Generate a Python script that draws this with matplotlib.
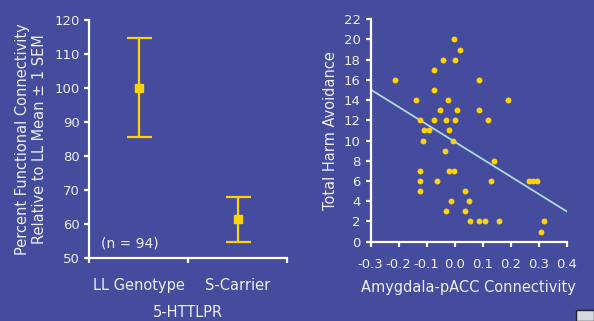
import matplotlib
matplotlib.use("Agg")
from matplotlib import pyplot as plt
from matplotlib.patches import Rectangle

# left panel: group means with +/- 1 SEM
groups = ["LL Genotype", "S-Carrier"]
group_mean = [100.0, 61.3]
group_low = [85.6, 54.7]
group_high = [114.6, 68.0]

# right panel: scatter
conn_x = [-0.214, -0.004, 0.018, -0.042, 0.0, -0.074, 0.088, -0.074, -0.137, -0.024,
          0.19, -0.054, 0.007, 0.088, -0.124, -0.074, -0.032, 0.0, 0.12, -0.109,
          -0.093, -0.02, -0.114, -0.006, -0.034, 0.139, -0.124, -0.021, -0.002, -0.124,
          -0.063, 0.129, 0.266, 0.281, 0.295, -0.124, 0.036, -0.012, 0.051, -0.032,
          0.036, 0.054, 0.088, 0.108, 0.159, 0.32, 0.307]
harm_y = [16, 20, 19, 18, 18, 17, 16, 15, 14, 14,
          14, 13, 13, 13, 12, 12, 12, 12, 12, 11,
          11, 11, 10, 10, 9, 8, 7, 7, 7, 6,
          6, 6, 6, 6, 6, 5, 5, 4, 4, 3,
          3, 2, 2, 2, 2, 2, 1]
fit_x = [-0.3, 0.4]
fit_y = [15.05, 3.0]

BG = "#454b9d"
FG = "#eeeef6"
YEL = "#ffd200"

plt.rcParams["axes.unicode_minus"] = False
plt.rcParams["font.family"] = ["DejaVu Sans"]

fig = plt.figure(figsize=(5.94, 3.21), dpi=100, facecolor=BG)


def style(ax):
    ax.set_facecolor(BG)
    for s in ["top", "right"]:
        ax.spines[s].set_visible(False)
    for s in ["left", "bottom"]:
        ax.spines[s].set_color("white")
        ax.spines[s].set_linewidth(1.6)
    ax.tick_params(colors="white", labelcolor=FG, width=1.6, length=3.5,
                   labelsize=9.5)


# left panel
ax1 = fig.add_axes([0.1503, 0.197, 0.3334, 0.7407])
style(ax1)
xpos = [0.5, 1.5]
err = [[m - l for m, l in zip(group_mean, group_low)],
       [h - m for m, h in zip(group_mean, group_high)]]
ax1.errorbar(xpos, group_mean, yerr=err, fmt="s", color=YEL, ecolor=YEL,
             elinewidth=1.6, capsize=9, capthick=1.6, markersize=5.5)
ax1.set_xlim(0, 2)
ax1.set_ylim(50, 120)
ax1.set_yticks(range(50, 121, 10))
ax1.set_xticks([0, 1, 2])
ax1.set_xticklabels([])
for xp, g in zip(xpos, groups):
    ax1.text(xp, -0.085, g, transform=ax1.get_xaxis_transform(), ha="center",
             va="top", color=FG, fontsize=10.5)
ax1.text(1.0, -0.2, "5-HTTLPR", transform=ax1.get_xaxis_transform(),
         ha="center", va="top", color=FG, fontsize=10.5)
ax1.text(0.06, 0.06, "(n = 94)", transform=ax1.transAxes, color=FG,
         fontsize=10, va="center")
ax1.set_ylabel("Percent Functional Connectivity\nRelative to LL Mean \u00b1 1 SEM",
               color=FG, fontsize=10.5, labelpad=5, linespacing=1.2)

# right panel
ax2 = fig.add_axes([0.624, 0.247, 0.330, 0.693])
style(ax2)
ax2.scatter(conn_x, harm_y, s=18, color=YEL, zorder=3, linewidths=0)
ax2.plot(fit_x, fit_y, color="#aadbe3", lw=1.3, zorder=2)
ax2.set_xlim(-0.3, 0.4)
ax2.set_ylim(0, 22)
ax2.set_xticks([-0.3, -0.2, -0.1, 0.0, 0.1, 0.2, 0.3, 0.4])
ax2.set_xticklabels(["-0.3", "-0.2", "-0.1", "0.0", "0.1", "0.2", "0.3", "0.4"])
ax2.set_yticks(range(0, 23, 2))
ax2.tick_params(axis="x", pad=8)
ax2.set_xlabel("Amygdala-pACC Connectivity", color=FG, fontsize=10.5, labelpad=7)
ax2.set_ylabel("Total Harm Avoidance", color=FG, fontsize=10.5, labelpad=4)

# small slide icon in the corner
fig.patches.append(Rectangle((576 / 594, 0), 18 / 594, 11 / 321,
                             transform=fig.transFigure, facecolor="#d8d8e0",
                             edgecolor="#222233", lw=1))

fig.savefig("out.png", dpi=100, facecolor=BG)
